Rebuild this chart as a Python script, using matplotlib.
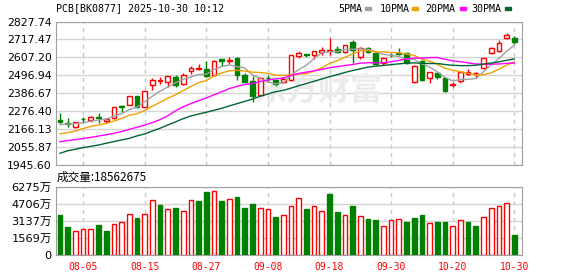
import numpy as np
import pandas as pd
import matplotlib
matplotlib.use('Agg')
import matplotlib.pyplot as plt
from matplotlib.patches import Rectangle

plt.rcParams['font.family'] = ['DejaVu Sans', 'Noto Sans CJK SC']

# 交易日 (10-01 ~ 10-08 国庆休市)
days = pd.bdate_range('2025-07-31', '2025-10-30')
days = days[(days < '2025-10-01') | (days > '2025-10-08')]
tick_labels = ['08-05', '08-15', '08-27', '09-08', '09-18', '09-30', '10-20', '10-30']

opens = [2223.6, 2203.4, 2178.8, 2231.0, 2221.8, 2240.2, 2219.3, 2234.0, 2311.0, 2313.8,
         2369.0, 2301.5, 2436.4, 2462.8, 2456.7, 2485.5, 2444.4, 2522.3, 2536.4, 2534.5,
         2497.7, 2595.9, 2587.3, 2603.9, 2497.7, 2464.6, 2378.8, 2483.0, 2468.9, 2456.7,
         2468.9, 2618.0, 2628.4, 2620.4, 2642.5, 2646.8, 2659.0, 2642.5, 2702.0, 2611.8,
         2665.2, 2632.7, 2571.3, 2625.0, 2632.7, 2632.7, 2454.8, 2585.4, 2483.0, 2510.0,
         2483.0, 2436.4, 2460.9, 2505.7, 2510.0, 2540.7, 2636.4, 2648.6, 2724.7, 2724.7]
highs = [2268.4, 2237.7, 2213.2, 2240.2, 2246.3, 2264.7, 2237.7, 2305.2, 2313.8, 2369.0,
         2369.0, 2403.5, 2479.3, 2489.2, 2491.6, 2499.6, 2510.0, 2554.8, 2565.2, 2585.4,
         2591.6, 2595.9, 2611.8, 2608.1, 2510.0, 2495.3, 2485.5, 2499.6, 2468.9, 2489.2,
         2624.0, 2648.6, 2628.4, 2646.8, 2673.2, 2728.4, 2679.3, 2683.6, 2714.3, 2673.2,
         2673.2, 2639.0, 2608.1, 2634.5, 2663.3, 2632.7, 2559.1, 2591.6, 2516.1, 2519.8,
         2489.2, 2458.5, 2524.1, 2538.2, 2519.8, 2605.7, 2669.0, 2714.3, 2755.4, 2740.6]
lows = [2207.1, 2182.5, 2172.7, 2207.1, 2209.5, 2207.1, 2207.1, 2229.7, 2270.8, 2313.8,
        2299.0, 2301.5, 2407.6, 2442.5, 2424.1, 2424.1, 2438.3, 2505.7, 2530.2, 2485.5,
        2493.5, 2554.8, 2565.2, 2468.9, 2448.7, 2332.2, 2375.0, 2458.5, 2432.1, 2448.7,
        2462.0, 2605.7, 2608.1, 2599.6, 2620.4, 2622.2, 2636.4, 2632.7, 2571.3, 2595.9,
        2632.7, 2563.0, 2560.9, 2611.8, 2622.2, 2569.0, 2448.7, 2462.8, 2448.7, 2476.9,
        2393.5, 2427.8, 2448.7, 2497.7, 2479.3, 2538.0, 2628.4, 2642.5, 2718.6, 2689.7]
closes = [2211.3, 2197.2, 2213.2, 2229.7, 2240.2, 2234.0, 2229.7, 2301.5, 2306.0, 2369.0,
          2301.5, 2399.6, 2468.9, 2466.0, 2491.6, 2440.1, 2497.7, 2544.4, 2543.0, 2493.5,
          2587.3, 2586.0, 2591.6, 2497.7, 2454.8, 2372.6, 2479.3, 2479.5, 2444.4, 2476.9,
          2622.2, 2636.4, 2620.4, 2646.8, 2652.9, 2652.0, 2642.5, 2683.6, 2652.9, 2667.0,
          2640.6, 2565.2, 2605.7, 2620.4, 2626.5, 2571.3, 2554.8, 2468.9, 2516.1, 2485.5,
          2399.6, 2444.4, 2516.1, 2515.0, 2513.7, 2605.7, 2663.3, 2697.7, 2744.9, 2700.2]

# 成交量 (万)
volume = [3676, 2573, 2206, 2390, 2390, 2757, 2206, 2821, 3033, 3740,
          3400, 3740, 5027, 4595, 4200, 4319, 4044, 5027, 4963, 5790,
          5882, 4963, 5119, 5330, 4319, 4687, 4292, 4200, 3492, 3648,
          4475, 5211, 4227, 4475, 4044, 5606, 3952, 3648, 4503, 3556,
          3308, 3217, 2637, 3189, 3281, 3033, 3400, 3676, 2913, 3033,
          3033, 2637, 3189, 3033, 2665, 3464, 4292, 4475, 4751, 1856]
vol_red = [0, 0, 1, 1, 1, 0, 0, 1, 1, 1, 0, 1, 1, 0, 1, 0, 1, 1, 0, 0,
           1, 0, 1, 0, 0, 0, 1, 1, 0, 1, 1, 1, 0, 1, 1, 0, 0, 1, 0, 1,
           0, 0, 1, 1, 1, 0, 0, 0, 1, 0, 0, 1, 1, 0, 0, 1, 1, 1, 1, 0]

ma5 = [2195, 2198, 2202, 2207, 2216, 2223, 2229, 2247, 2262, 2288,
       2302, 2335, 2369, 2401, 2426, 2453, 2473, 2488, 2503, 2504,
       2533, 2551, 2561, 2551, 2543, 2500, 2479, 2457, 2446, 2451,
       2500, 2532, 2560, 2600, 2636, 2642, 2643, 2656, 2657, 2660,
       2657, 2642, 2626, 2620, 2612, 2598, 2596, 2568, 2548, 2519,
       2485, 2463, 2472, 2473, 2478, 2520, 2563, 2600, 2645, 2682]
ma10 = [2138, 2147, 2156, 2171, 2184, 2193, 2202, 2217, 2232, 2253,
        2262, 2282, 2308, 2332, 2357, 2378, 2404, 2429, 2453, 2465,
        2494, 2512, 2525, 2528, 2524, 2517, 2515, 2509, 2499, 2497,
        2501, 2505, 2508, 2523, 2543, 2571, 2587, 2608, 2629, 2648,
        2650, 2642, 2641, 2638, 2636, 2628, 2619, 2597, 2584, 2565,
        2541, 2529, 2520, 2510, 2499, 2502, 2513, 2536, 2559, 2580]
ma20 = [2090, 2097, 2103, 2110, 2117, 2125, 2133, 2142, 2153, 2166,
        2179, 2192, 2208, 2226, 2250, 2280, 2305, 2324, 2342, 2359,
        2378, 2397, 2416, 2430, 2441, 2447, 2460, 2469, 2476, 2481,
        2497, 2509, 2517, 2525, 2534, 2544, 2551, 2558, 2564, 2572,
        2575, 2574, 2575, 2581, 2589, 2599, 2603, 2603, 2606, 2607,
        2596, 2586, 2581, 2574, 2567, 2565, 2566, 2567, 2571, 2573]
ma30 = [2019, 2035, 2044, 2054, 2062, 2070, 2081, 2091, 2101, 2111,
        2126, 2138, 2156, 2173, 2193, 2212, 2232, 2248, 2260, 2271,
        2283, 2295, 2310, 2324, 2338, 2352, 2369, 2383, 2397, 2405,
        2419, 2434, 2447, 2461, 2475, 2489, 2502, 2515, 2527, 2537,
        2548, 2554, 2558, 2563, 2568, 2572, 2574, 2571, 2570, 2570,
        2564, 2559, 2557, 2557, 2559, 2567, 2573, 2580, 2590, 2598]

price_lo, price_hi = 1945.60, 2827.74
vol_hi = 6275

RED = '#ff0000'
GREEN = '#008000'
GRID = '#d4d4d4'
ma_colors = {'5PMA': '#a0a0a0', '10PMA': '#f0a000', '20PMA': '#ff00ff', '30PMA': '#006633'}

W, H = 578, 276
fig = plt.figure(figsize=(W / 100, H / 100), dpi=100)
ax = fig.add_axes([56 / W, (H - 165.3) / H, 466 / W, 143.8 / H])
axv = fig.add_axes([56 / W, (H - 255) / H, 466 / W, 68.3 / H])

o = np.array(opens)
c = np.array(closes)
x = np.arange(len(c))
up = c >= o
cols = np.where(up, RED, GREEN)
tick_pos = [list(days.strftime('%m-%d')).index(t) for t in tick_labels]

# watermark
ax.text(0.562, 0.51, '东方财富', transform=ax.transAxes, fontsize=23, fontweight='bold',
        color='#ebebeb', ha='center', va='center', family=['Noto Sans CJK SC'], zorder=1)

# candles
ax.vlines(x, lows, highs, colors=cols, lw=1, zorder=2)
ax.bar(x, np.abs(c - o), bottom=np.minimum(o, c), width=0.62,
       color=np.where(up, 'white', GREEN), edgecolor=cols, lw=1, zorder=3)

for name, ma in zip(ma_colors, [ma5, ma10, ma20, ma30]):
    ax.plot(x, ma, color=ma_colors[name], lw=1, zorder=4)

for a in (ax, axv):
    a.set_xlim(-0.52, 60.0)
    a.set_xticks(tick_pos)
    a.grid(axis='x', color='#c8c8c8', lw=1, ls=(0, (3, 3)))
    a.grid(axis='y', color=GRID, lw=1)
    a.set_axisbelow(True)
    for s in a.spines.values():
        s.set_color('#a0a0a0')
    a.tick_params(length=0)

ax.set_ylim(price_lo, price_hi)
ax.set_yticks(np.linspace(price_lo, price_hi, 9))
ax.set_yticklabels([f'{v:.2f}' for v in np.linspace(price_lo, price_hi, 9)], fontsize=7.8)
ax.tick_params(axis='y', pad=3)
ax.set_xticklabels([])

# volume
vr = np.array(vol_red, dtype=bool)
axv.bar(x, volume, width=0.62, color=np.where(vr, 'white', GREEN),
        edgecolor=np.where(vr, RED, GREEN), lw=1, zorder=3)
axv.set_ylim(0, vol_hi)
vticks = [0, 1569, 3137, 4706, 6275]
axv.set_yticks(vticks)
axv.set_yticklabels(['0'] + [f'{v}万' for v in vticks[1:]], fontsize=8.2)
axv.tick_params(axis='y', pad=3)
axv.set_xticklabels(tick_labels, fontsize=7, color=RED, family='DejaVu Sans Mono')
axv.tick_params(axis='x', pad=5)

# header texts
fig.text(56 / W, 1 - 8.5 / H, 'PCB[BK0877] 2025-10-30 10:12', fontsize=7.2,
         family='DejaVu Sans Mono', va='center', ha='left')
leg = [('5PMA', 338.3, 365), ('10PMA', 380, 411.7), ('20PMA', 425.7, 459.5), ('30PMA', 471.7, 505)]
for name, tx, mx in leg:
    fig.text(tx / W, 1 - 8.5 / H, name, fontsize=7.2, family='DejaVu Sans Mono',
             va='center', ha='left')
    fig.patches.append(Rectangle((mx / W, 1 - 10 / H), 6 / W, 3 / H, transform=fig.transFigure,
                                 color=ma_colors[name], figure=fig))

fig.text(57 / W, 1 - 177.7 / H, '成交量:18562675', fontsize=8.4,
         family=['Noto Sans CJK SC'], va='center', ha='left')

fig.savefig('out.png', dpi=100)
